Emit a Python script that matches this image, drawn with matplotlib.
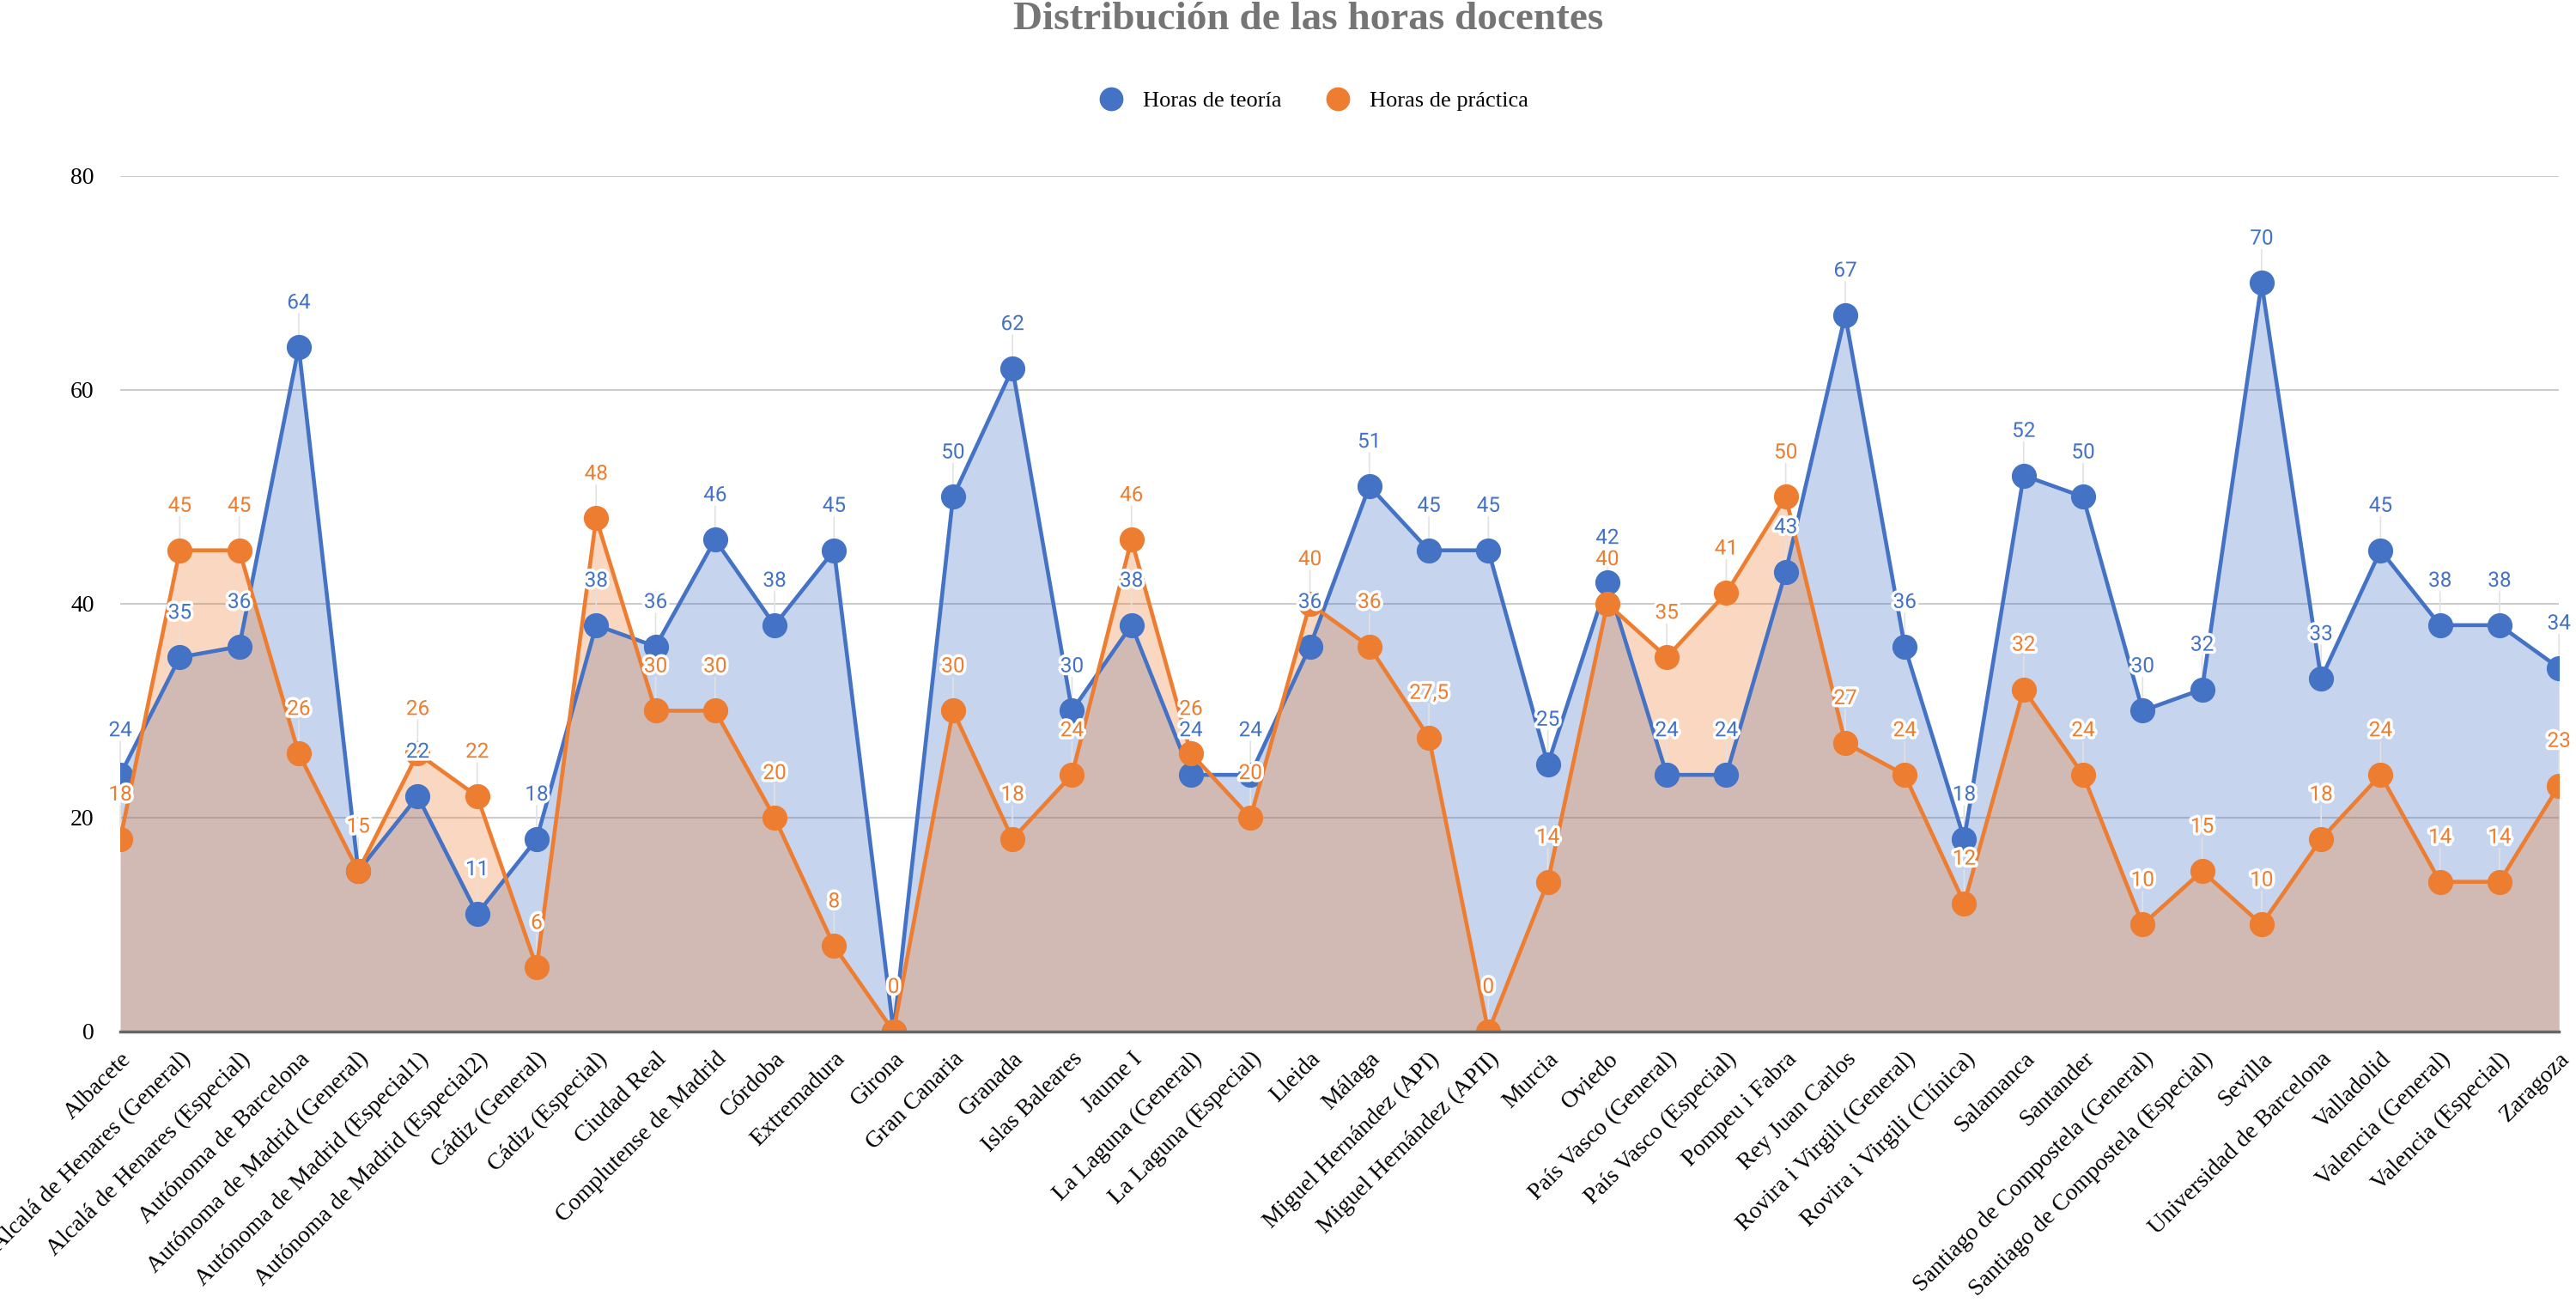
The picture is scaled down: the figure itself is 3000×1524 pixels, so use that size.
import numpy as np
import matplotlib.pyplot as plt
import matplotlib.patheffects as pe
from matplotlib.lines import Line2D

universidades = [
    "Albacete", "Alcalá de Henares (General)", "Alcalá de Henares (Especial)",
    "Autónoma de Barcelona", "Autónoma de Madrid (General)",
    "Autónoma de Madrid (Especial1)", "Autónoma de Madrid (Especial2)",
    "Cádiz (General)", "Cádiz (Especial)", "Ciudad Real",
    "Complutense de Madrid", "Córdoba", "Extremadura", "Girona",
    "Gran Canaria", "Granada", "Islas Baleares", "Jaume I",
    "La Laguna (General)", "La Laguna (Especial)", "Lleida", "Málaga",
    "Miguel Hernández (API)", "Miguel Hernández (APII)", "Murcia", "Oviedo",
    "País Vasco (General)", "País Vasco (Especial)", "Pompeu i Fabra",
    "Rey Juan Carlos", "Rovira i Virgili (General)",
    "Rovira i Virgili (Clínica)", "Salamanca", "Santander",
    "Santiago de Compostela (General)", "Santiago de Compostela (Especial)",
    "Sevilla", "Universidad de Barcelona", "Valladolid",
    "Valencia (General)", "Valencia (Especial)", "Zaragoza",
]

teoria = [24, 35, 36, 64, 15, 22, 11, 18, 38, 36, 46, 38, 45, 0, 50, 62, 30,
          38, 24, 24, 36, 51, 45, 45, 25, 42, 24, 24, 43, 67, 36, 18, 52, 50,
          30, 32, 70, 33, 45, 38, 38, 34]
practica = [18, 45, 45, 26, 15, 26, 22, 6, 48, 30, 30, 20, 8, 0, 30, 18, 24,
            46, 26, 20, 40, 36, 27.5, 0, 14, 40, 35, 41, 50, 27, 24, 12, 32,
            24, 10, 15, 10, 18, 24, 14, 14, 23]

# labels the original chart leaves out because they collide
ocultas_teoria = {4, 13}
ocultas_practica = set()

azul = "#4472C4"
naranja = "#ED7D31"
serif = "Liberation Serif"

x = np.arange(len(universidades))

fig = plt.figure(figsize=(30, 15.24), dpi=100)
ax = fig.add_axes([0.0467, 0.212, 0.9467, 0.6535])

ax.fill_between(x, teoria, color=azul, alpha=0.3, lw=0, zorder=1)
ax.fill_between(x, practica, color=naranja, alpha=0.3, lw=0, zorder=1.1)
ax.plot(x, teoria, color=azul, lw=3.3, marker="o", ms=20, zorder=3)
ax.plot(x, practica, color=naranja, lw=3.3, marker="o", ms=20, zorder=3.1)


def etiquetas(valores, color, ocultas):
    for i, v in enumerate(valores):
        if i in ocultas:
            continue
        txt = ("%g" % v).replace(".", ",")
        # faint leader line from the marker up to the label
        ax.annotate("", (x[i], v), xytext=(0, 28), textcoords="offset points",
                    zorder=2,
                    arrowprops=dict(arrowstyle="-", color="#e2e2e2", lw=1.2,
                                    shrinkA=0, shrinkB=10))
        ax.annotate(txt, (x[i], v), xytext=(0, 37), textcoords="offset points",
                    ha="center", va="center", fontsize=17.5, color=color,
                    family="Roboto", zorder=5,
                    path_effects=[pe.withStroke(linewidth=5, foreground="white")])


etiquetas(teoria, azul, ocultas_teoria)
etiquetas(practica, naranja, ocultas_practica)

ax.set_xlim(0, len(universidades) - 1)
ax.set_ylim(0, 80)
ax.set_yticks([0, 20, 40, 60, 80])
ax.grid(axis="y", color="#cccccc", lw=1.5, zorder=0)
ax.set_axisbelow(True)
for s in ["top", "right", "left"]:
    ax.spines[s].set_visible(False)
ax.spines["bottom"].set_color("#666666")
ax.spines["bottom"].set_linewidth(2.5)
ax.spines["bottom"].set_zorder(4)
ax.tick_params(axis="both", length=0)
ax.tick_params(axis="y", pad=22)
ax.tick_params(axis="x", pad=14)
ax.set_yticklabels(["0", "20", "40", "60", "80"], family=serif, fontsize=20)
ax.set_xticks(x)
ax.set_xticklabels(universidades, rotation=45, ha="right",
                   rotation_mode="anchor", family=serif, fontsize=20)

fig.text(0.508, 0.985, "Distribución de las horas docentes", ha="center",
         va="center", fontsize=34, fontweight="bold", color="#757575",
         family=serif)

handles = [
    Line2D([], [], color=azul, marker="o", ls="", ms=19, label="Horas de teoría"),
    Line2D([], [], color=naranja, marker="o", ls="", ms=19, label="Horas de práctica"),
]
fig.legend(handles=handles, loc="center", bbox_to_anchor=(0.508, 0.923), ncol=2,
           frameon=False, prop={"family": serif, "size": 19}, handletextpad=0.4,
           columnspacing=1.5)

fig.savefig("out.png", dpi=100)
